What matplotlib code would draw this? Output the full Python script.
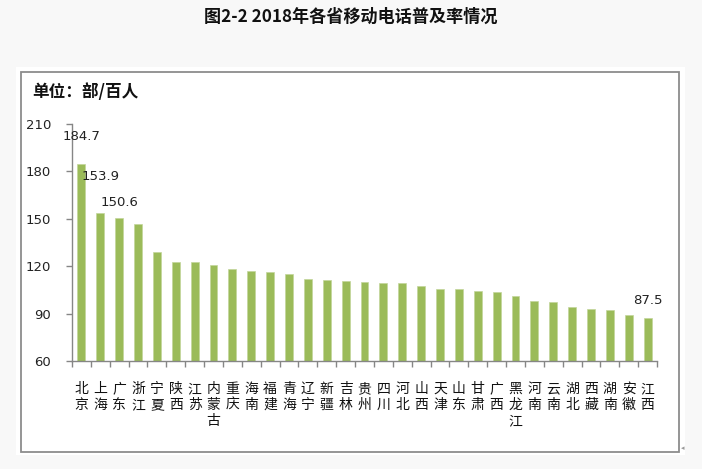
import matplotlib
matplotlib.use("Agg")
import matplotlib.pyplot as plt
from matplotlib.patches import Rectangle

plt.rcParams['font.family'] = ['Noto Sans CJK SC', 'DejaVu Sans']

# 数据
provinces = ["北京", "上海", "广东", "浙江", "宁夏", "陕西", "江苏", "内蒙古", "重庆", "海南",
             "福建", "青海", "辽宁", "新疆", "吉林", "贵州", "四川", "河北", "山西", "天津",
             "山东", "甘肃", "广西", "黑龙江", "河南", "云南", "湖北", "西藏", "湖南", "安徽", "江西"]
rates = [184.7, 153.9, 150.6, 146.8, 129.3, 122.6, 122.5, 120.9, 118.5, 117.1,
         116.4, 115.0, 111.9, 111.2, 110.4, 110.3, 109.6, 109.5, 107.2, 105.8,
         105.7, 104.3, 103.4, 101.1, 98.0, 97.4, 94.2, 92.9, 92.0, 89.1, 87.5]
yticks = [60, 90, 120, 150, 180, 210]
labeled = ["北京", "上海", "广东", "江西"]

# 标签在柱顶上方的偏移（像素）
label_offset = {"北京": 21, "上海": 30, "广东": 9, "江西": 11}

W, H = 702, 469
fig = plt.figure(figsize=(W / 100, H / 100), dpi=100)
fig.patch.set_facecolor("#f8f8f8")

# 白色图表区和灰色边框
fig.patches.append(Rectangle((16 / W, 1 - 455 / H), (685 - 16) / W, (455 - 67) / H,
                             transform=fig.transFigure, facecolor="white", edgecolor="none", zorder=-3))
fig.patches.append(Rectangle((21 / W, 1 - 452 / H), (679 - 21) / W, (452 - 72) / H,
                             transform=fig.transFigure, facecolor="none", edgecolor="#8c8c8c",
                             linewidth=1.3, zorder=-2))

fig.text(351 / W, 1 - 17 / H, "图2-2 2018年各省移动电话普及率情况", ha="center", va="center",
         fontsize=12.3, fontweight="bold", color="#111111")
fig.text(32 / W, 1 - 92 / H, "单位：部/百人", ha="left", va="center",
         fontsize=12, fontweight="bold", color="#111111")

ax = fig.add_axes([72 / W, 1 - 361 / H, (657 - 72) / W, (361 - 124) / H])
ax.set_zorder(2)
ax.set_facecolor("none")

x = list(range(len(provinces)))
ax.bar(x, [r - 60 for r in rates], bottom=60, width=0.42, color="#9bbb59",
       edgecolor="#c3d69b", linewidth=0.5, zorder=2)

for name in labeled:
    i = provinces.index(name)
    ax.annotate(f"{rates[i]:.1f}", (i, rates[i]), xytext=(0, label_offset[name]),
                textcoords="offset pixels", ha="center", va="bottom",
                fontsize=9.5, family="DejaVu Sans", color="#222222", zorder=3)

ax.set_xlim(-0.5, len(provinces) - 0.5)
ax.set_ylim(60, 210)
ax.set_yticks(yticks)
ax.set_yticklabels([str(v) for v in yticks], family="DejaVu Sans", fontsize=9.5, color="#222222")
ax.tick_params(axis="y", direction="out", length=4, width=1, color="#868686", pad=11)

ax.set_xticks(x)
ax.set_xticklabels(["\n".join(p) for p in provinces], fontsize=10, color="#111111",
                   linespacing=1.2, va="top")
ax.set_xticks([i - 0.5 for i in range(len(provinces) + 1)], minor=True)
ax.tick_params(axis="x", which="major", length=0, pad=15)
ax.tick_params(axis="x", which="minor", direction="out", length=4, width=1, color="#868686")

for s in ["top", "right"]:
    ax.spines[s].set_visible(False)
for s in ["left", "bottom"]:
    ax.spines[s].set_color("#868686")
    ax.spines[s].set_linewidth(1)

fig.text(683 / W, 1 - 448 / H, "◂", ha="center", va="center", fontsize=5,
         family="DejaVu Sans", color="#999999")

fig.savefig("out.png", dpi=100, facecolor=fig.get_facecolor())
